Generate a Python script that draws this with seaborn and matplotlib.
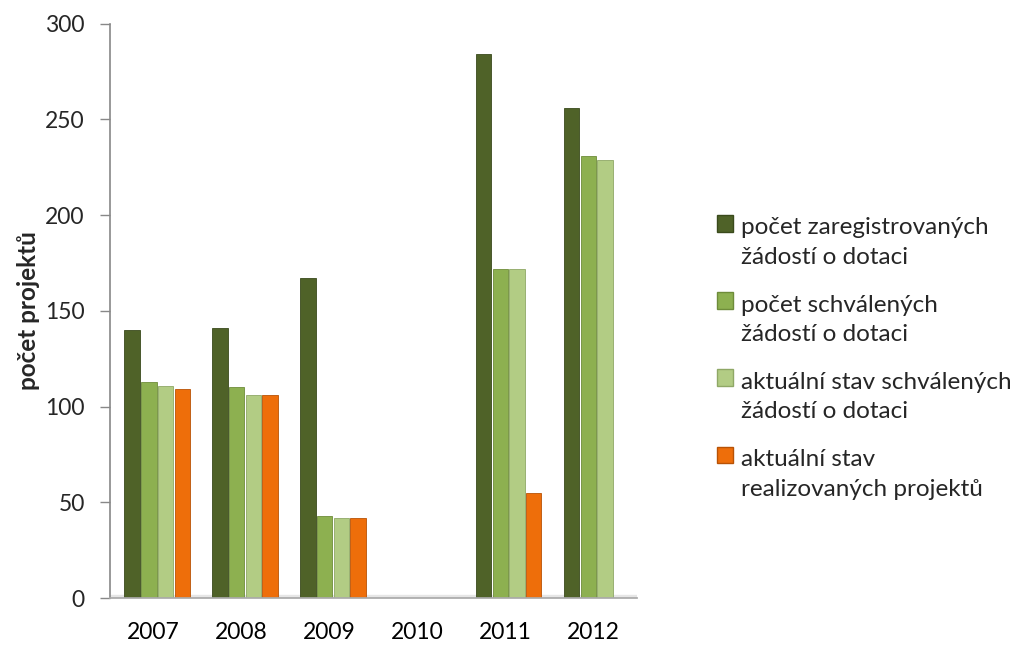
import numpy as np
import pandas as pd
import matplotlib
matplotlib.use("Agg")
import matplotlib.pyplot as plt
from matplotlib.patches import Patch, Rectangle
from matplotlib.legend_handler import HandlerPatch
import seaborn as sns

years = ["2007", "2008", "2009", "2010", "2011", "2012"]
registered = [140, 141, 167, 0, 284, 256]
approved = [113, 110, 43, 0, 172, 231]
approved_current = [111, 106, 42, 0, 172, 229]
realized = [109, 106, 42, 0, 55, 0]

series_names = [
    "počet zaregistrovaných\nžádostí o dotaci",
    "počet schválených\nžádostí o dotaci",
    "aktuální stav schválených\nžádostí o dotaci",
    "aktuální stav\nrealizovaných projektů",
]
colors = ["#4F6228", "#8DB050", "#B2CC84", "#EE6E0A"]
edges = ["#3A4A1C", "#6E8C3A", "#8FA866", "#B85205"]

sns.set_theme(style="white")
plt.rcParams["font.family"] = ["Lato", "DejaVu Sans"]

rows = []
for name, vals in zip(series_names, [registered, approved, approved_current, realized]):
    for y, v in zip(years, vals):
        rows.append({"rok": y, "serie": name, "hodnota": v})
df = pd.DataFrame(rows)

fig = plt.figure(figsize=(10.16, 6.46), dpi=100)
ax = fig.add_axes([0.108, 0.0743, 0.519, 0.889])

sns.barplot(data=df, x="rok", y="hodnota", hue="serie", order=years,
            hue_order=series_names, palette=colors, width=0.76, gap=0.08,
            ax=ax, legend=False, saturation=1)

for i, cont in enumerate(ax.containers):
    for bar in cont:
        bar.set_edgecolor(edges[i])
        bar.set_linewidth(0.6)
        bar.set_x(bar.get_x() + 0.04)

ax.set_ylim(0, 300)
ax.set_xlim(-0.5, 5.5)
ax.set_yticks(np.arange(0, 301, 50))
ax.set_xlabel("")
ax.set_ylabel("počet projektů", fontsize=17.5, fontweight="bold", labelpad=4)

ax.set_xticks(range(len(years)))
ax.set_xticklabels(years)
ax.set_xticks(np.arange(-0.5, 6.0, 1.0), minor=True)
ax.tick_params(axis="x", which="major", length=0, labelsize=16.5, pad=17, colors="#000000")
ax.tick_params(axis="x", which="minor", length=10, width=1, color="#888888", direction="out")
ax.tick_params(axis="y", which="major", length=7, width=1, color="#888888", labelsize=16.5,
               direction="out", left=True, pad=11)

for s in ["top", "right"]:
    ax.spines[s].set_visible(False)
ax.spines["left"].set_color("#888888")
ax.spines["bottom"].set_color("#AAAAAA")
ax.spines["left"].set_linewidth(1.2)

ax.axhspan(0, 1.5, xmin=0, xmax=1, color="#E6E6E6", zorder=0)


def top_aligned_patch(legend, orig_handle, xdescent, ydescent, width, height, fontsize):
    shift = fontsize * 0.8
    return Rectangle((-xdescent, -ydescent + shift), width, height)


handles = [Patch(facecolor=c, edgecolor=e) for c, e in zip(colors, edges)]
leg = fig.legend(handles, series_names, loc="center left", bbox_to_anchor=(0.684, 0.445),
                 frameon=False, fontsize=17.5, handlelength=0.68, handleheight=0.68,
                 handletextpad=0.3, labelspacing=1.1,
                 handler_map={Patch: HandlerPatch(patch_func=top_aligned_patch)})
for t in leg.get_texts():
    t.set_linespacing(1.5)

fig.savefig("out.png", dpi=100)
